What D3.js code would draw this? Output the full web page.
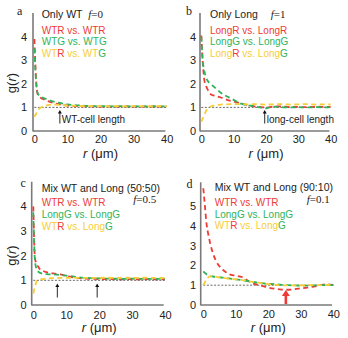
<!DOCTYPE html>
<html><head><meta charset="utf-8">
<script src="https://cdn.jsdelivr.net/npm/d3@7"></script>
<style>
html,body{margin:0;padding:0;background:#fff;}
svg{display:block;font-family:"Liberation Sans",Arial,sans-serif;}
</style></head>
<body>
<svg id="chart" width="348" height="338"></svg>
<script>
// ---- data ----
const rGrid = [0,0.5,1,1.5,2,3,4,5,6,7,8,10,12,14,16,18,20,22,24,26,28,30,32,34,36,38,40];
const xTicks = [0,10,20,30,40];
const yTicksABC = [0,1,2,3,4];
const yTicksD = [0,1,2,3,4,5];

// panel a: Only WT f=0
const aRR = [3.9,2.2,1.55,1.45,1.4,1.33,1.27,1.22,1.18,1.15,1.12,1.08,1.06,1.05,1.04,1.04,1.03,1.04,1.03,1.03,1.04,1.03,1.03,1.04,1.03,1.03,1.04];
const aGG = [3.5,2.1,1.6,1.5,1.45,1.38,1.33,1.28,1.24,1.21,1.18,1.13,1.1,1.08,1.06,1.05,1.05,1.05,1.04,1.05,1.04,1.05,1.04,1.04,1.05,1.04,1.04];
const aRG = [0.6,0.72,0.85,0.95,1.0,1.06,1.1,1.12,1.12,1.11,1.1,1.08,1.07,1.06,1.05,1.05,1.05,1.04,1.05,1.05,1.04,1.05,1.05,1.04,1.05,1.05,1.05];
// panel b: Only Long f=1
const bRR = [4.05,2.8,2.1,1.9,1.75,1.55,1.5,1.46,1.42,1.37,1.32,1.25,1.18,1.11,1.05,1.02,1.0,1.03,1.04,1.03,1.02,1.02,1.01,1.02,1.03,1.02,1.02];
const bGG = [4.0,2.9,2.5,2.25,2.12,1.98,1.86,1.75,1.62,1.53,1.46,1.32,1.17,1.09,1.06,1.0,0.96,1.03,1.02,1.0,1.0,1.01,1.0,1.0,1.01,1.0,1.0];
const bRG = [0.4,0.55,0.7,0.85,0.95,1.05,1.08,1.1,1.12,1.13,1.13,1.14,1.14,1.13,1.14,1.13,1.12,1.13,1.14,1.13,1.12,1.13,1.14,1.13,1.12,1.13,1.13];
// panel c: Mix 50:50 f=0.5
const cRR = [4.0,1.9,1.66,1.55,1.45,1.38,1.33,1.3,1.28,1.26,1.24,1.18,1.12,1.09,1.07,1.06,1.05,1.05,1.05,1.04,1.05,1.05,1.04,1.05,1.05,1.04,1.05];
const cGG = [3.76,1.8,1.45,1.35,1.3,1.27,1.25,1.24,1.24,1.23,1.22,1.19,1.16,1.12,1.1,1.09,1.08,1.07,1.07,1.06,1.06,1.07,1.06,1.06,1.06,1.06,1.06];
const cRG = [0.46,0.75,0.95,1.0,1.03,1.05,1.07,1.08,1.09,1.09,1.1,1.1,1.1,1.1,1.1,1.1,1.1,1.11,1.1,1.1,1.11,1.1,1.1,1.11,1.1,1.1,1.1];
// panel d: Mix 90:10 f=0.1
const dRR = [5.9,5.0,4.1,3.6,3.2,2.6,2.2,1.95,1.78,1.65,1.55,1.48,1.4,1.2,1.05,0.97,0.88,0.82,0.78,0.77,0.8,0.84,0.88,0.93,1.0,1.05,1.0];
const dGG = [1.7,1.62,1.55,1.5,1.47,1.44,1.42,1.4,1.38,1.36,1.34,1.3,1.25,1.2,1.15,1.1,1.07,1.05,1.02,1.0,0.99,0.98,0.98,0.99,1.0,1.0,1.0];
const dRG = [1.0,1.15,1.3,1.4,1.45,1.44,1.42,1.4,1.37,1.35,1.33,1.3,1.26,1.2,1.15,1.1,1.06,1.03,1.0,0.99,0.99,0.99,1.0,1.0,1.0,1.02,1.0];

const arrowsA = [7.7], arrowsB = [19.6], arrowsC = [7.3,19.4], arrowsD = [25.4];

const RED = "#ee3b36", GREEN = "#2fb35a", YEL = "#f7cd35";

// ---- layout ----
const panels = [
  {id:"a", x:[34.4,166.7], y0:131, yTop:13, yMax:5, ticks:yTicksABC, axisX:33, yPad:6, xPad:4,
   series:[aRR,aGG,aRG], arrows:arrowsA, arrowY:[123.5,110], arrowColor:"#111",
   title:"Only WT", f:"f", fv:"=0", fx:88.3, fy:18.3, fLine:false,
   legend:[[["WTR vs. WTR",RED]],[["WTG vs. WTG",GREEN]],[["WT",YEL],["R",RED],[" vs. WT",YEL],["G",GREEN]]],
   lx:41.7, ly:[33.7,45.3,56.8], ty:18.3, letter:[17,15], note:"WT-cell length", noteX:61.7, noteY:122.7, ylab:[11.7,83]},
  {id:"b", x:[201.3,330.7], y0:131, yTop:13, yMax:5, ticks:yTicksABC, axisX:200, yPad:4, xPad:4,
   series:[bRR,bGG,bRG], arrows:arrowsB, arrowY:[123.5,110], arrowColor:"#111",
   title:"Only Long", f:"f", fv:"=1", fx:270.7, fy:18.3,
   legend:[[["LongR vs. LongR",RED]],[["LongG vs. LongG",GREEN]],[["Long",YEL],["R",RED],[" vs. Long",YEL],["G",GREEN]]],
   lx:210, ly:[33.7,45.3,56.8], ty:18.3, letter:[186,15], note:"long-cell length", noteX:266.7, noteY:122.7},
  {id:"c", x:[33.3,165], y0:305, yTop:181.7, yMax:5, ticks:yTicksABC, axisX:31.7, yPad:5, xPad:6,
   series:[cRR,cGG,cRG], arrows:arrowsC, arrowY:[297.5,283.5], arrowColor:"#111",
   title:"Mix WT and Long (50:50)", f:"f", fv:"=0.5", fx:133.3, fy:202.5,
   legend:[[["WTR vs. WTR",RED]],[["LongG vs. LongG",GREEN]],[["WT",YEL],["R",RED],[" vs. Long",YEL],["G",GREEN]]],
   lx:41.7, ly:[206,217.6,229.6], ty:191.7, letter:[20.5,187.3], ylab:[11.7,255.5]},
  {id:"d", x:[203.3,333.3], y0:305, yTop:182.3, yMax:6.2, ticks:yTicksD, axisX:200.7, yPad:4.5, xPad:5,
   series:[dRR,dGG,dRG], arrows:arrowsD, arrowY:[304,291], arrowColor:RED, thick:true,
   title:"Mix WT and Long (90:10)", f:"f", fv:"=0.1", fx:306.7, fy:203,
   legend:[[["WTR vs. WTR",RED]],[["LongG vs. LongG",GREEN]],[["WT",YEL],["R",RED],[" vs. Long",YEL],["G",GREEN]]],
   lx:214.7, ly:[206,217.6,229.4], ty:191, letter:[186.5,188]}
];

const svg = d3.select("#chart");
const colors = [RED, GREEN, YEL];

panels.forEach(p => {
  const g = svg.append("g");
  const x = d3.scaleLinear().domain([0,40]).range(p.x);
  const y = d3.scaleLinear().domain([0,p.yMax]).range([p.y0, p.y0 - (p.y0 - p.yTop)]);
  const yS = d3.scaleLinear().domain([0,1]).range([p.y0, p.y0 - (p.y0 - p.yTop)/p.yMax]);
  const yy = v => yS(v);

  // axes lines
  g.append("line").attr("x1",p.axisX).attr("x2",p.axisX).attr("y1",p.yTop).attr("y2",p.y0+0.5)
    .attr("stroke","#7a7a7a").attr("stroke-width",1.6);
  g.append("line").attr("x1",p.axisX).attr("x2",x(39.6)).attr("y1",p.y0).attr("y2",p.y0)
    .attr("stroke","#7a7a7a").attr("stroke-width",1.6);

  // y ticks
  const yAxis = d3.axisLeft(d3.scaleLinear().domain([0,1]).range(yS.range()).clamp(false))
    .tickValues(p.ticks).tickSize(0).tickPadding(p.yPad).tickFormat(d3.format("d"));
  const ya = g.append("g").attr("transform",`translate(${p.axisX},0)`).call(yAxis);
  ya.select(".domain").remove();
  ya.selectAll("text").attr("font-size",11).attr("fill","#222").attr("font-family","Liberation Sans, Arial, sans-serif");

  // x ticks
  const xAxis = d3.axisBottom(x).tickValues(xTicks).tickSize(0).tickPadding(p.xPad).tickFormat(d3.format("d"));
  const xa = g.append("g").attr("transform",`translate(0,${p.y0})`).call(xAxis);
  xa.select(".domain").remove();
  xa.selectAll("text").attr("font-size",11).attr("fill","#222").attr("font-family","Liberation Sans, Arial, sans-serif");

  // x axis title
  const xt = g.append("text").attr("x",x(20)).attr("y",p.y0 + 27).attr("text-anchor","middle")
    .attr("font-size",13).attr("fill","#222");
  xt.append("tspan").attr("font-style","italic").text("r");
  xt.append("tspan").text(" (\u03bcm)");

  // y axis title
  if (p.ylab) {
    const yt = g.append("text").attr("transform",`translate(${p.ylab[0]+4},${p.ylab[1]}) rotate(-90)`)
      .attr("text-anchor","middle").attr("font-size",13).attr("fill","#222");
    yt.append("tspan").text("g(");
    yt.append("tspan").attr("font-style","italic").text("r");
    yt.append("tspan").text(")");
  }

  // reference line g=1
  g.append("line").attr("x1",x(0)).attr("x2",x(40)).attr("y1",yy(1)).attr("y2",yy(1))
    .attr("stroke","#444").attr("stroke-width",0.8).attr("stroke-dasharray","2,1.6");

  // curves
  const line = d3.line().x((d,i) => x(rGrid[i])).y(d => yy(d)).curve(d3.curveMonotoneX);
  p.series.forEach((s,i) => {
    g.append("path").datum(s).attr("d",line).attr("fill","none")
      .attr("stroke",colors[i]).attr("stroke-width",1.8).attr("stroke-dasharray","5,3.5");
  });

  // arrows
  p.arrows.forEach(r => {
    const ax = x(r);
    if (p.thick) {
      g.append("line").attr("x1",ax).attr("x2",ax).attr("y1",p.arrowY[0]).attr("y2",p.arrowY[1]+4)
        .attr("stroke",p.arrowColor).attr("stroke-width",2.6);
      g.append("path").attr("d",`M${ax-4},${p.arrowY[1]+5}L${ax},${p.arrowY[1]-1}L${ax+4},${p.arrowY[1]+5}Z`)
        .attr("fill",p.arrowColor);
    } else {
      g.append("line").attr("x1",ax).attr("x2",ax).attr("y1",p.arrowY[0]).attr("y2",p.arrowY[1]+3)
        .attr("stroke",p.arrowColor).attr("stroke-width",0.9);
      g.append("path").attr("d",`M${ax-2},${p.arrowY[1]+3.5}L${ax},${p.arrowY[1]}L${ax+2},${p.arrowY[1]+3.5}Z`)
        .attr("fill",p.arrowColor);
    }
  });

  if (p.note) {
    g.append("text").attr("x",p.noteX).attr("y",p.noteY).attr("font-size",10).attr("fill","#222").text(p.note);
  }

  // panel letter
  g.append("text").attr("x",p.letter[0]).attr("y",p.letter[1]).attr("font-family","Liberation Serif, Times New Roman, serif")
    .attr("font-size",12).attr("fill","#222").text(p.id);

  // title
  g.append("text").attr("x",p.lx).attr("y",p.ty).attr("font-size",10.5).attr("fill","#222").text(p.title);
  const ft = g.append("text").attr("x",p.fx).attr("y",p.fy).attr("font-family","Liberation Serif, Times New Roman, serif")
    .attr("font-size",11).attr("fill","#222");
  ft.append("tspan").attr("font-style","italic").text(p.f);
  ft.append("tspan").text(p.fv);

  // legend
  p.legend.forEach((parts,i) => {
    const t = g.append("text").attr("x",p.lx).attr("y",p.ly[i]).attr("font-size",10);
    parts.forEach(([txt,c]) => t.append("tspan").attr("fill",c).text(txt));
  });
});
</script>
</body></html>
